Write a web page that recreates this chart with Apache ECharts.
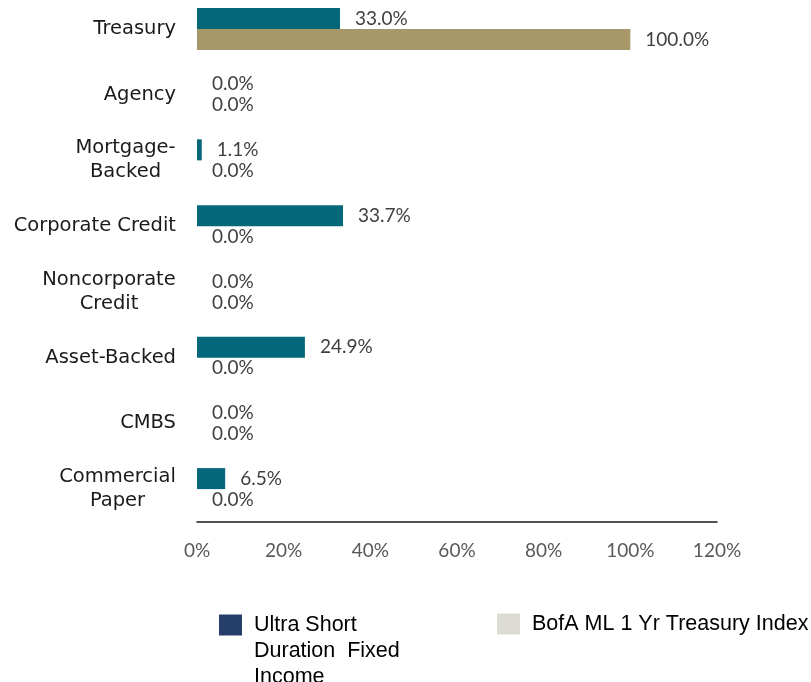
<!DOCTYPE html>
<html>
<head>
<meta charset="utf-8">
<script src="https://cdn.jsdelivr.net/npm/echarts@6/dist/echarts.min.js"></script>
<style>
  html, body { margin: 0; padding: 0; background: #ffffff; }
  #chart { width: 811px; height: 682px; }
</style>
</head>
<body>
<div id="chart"></div>
<script>
// Sector weights (%) for the fund and its benchmark
const categories = [
  'Treasury',
  'Agency',
  'Mortgage-\nBacked',
  'Corporate Credit',
  'Noncorporate\nCredit',
  'Asset-Backed',
  'CMBS',
  'Commercial\nPaper'
];
const fundWeights = [33.0, 0.0, 1.1, 33.7, 0.0, 24.9, 0.0, 6.5];
const indexWeights = [100.0, 0.0, 0.0, 0.0, 0.0, 0.0, 0.0, 0.0];

const fundName = 'Ultra Short Duration Fixed Income';
const fundLegendLines = ['Ultra Short', 'Duration  Fixed', 'Income'];
const indexName = 'BofA ML 1 Yr Treasury Index';

// x axis range and step
const xMin = 0;
const xMax = 120;
const xStep = 20;

const CAT_FONT = '"DejaVu Sans", Verdana, sans-serif';
const CAT_SIZE = 19.5;
const NUM_FONT = 'Lato, "Open Sans", sans-serif';
const LEGEND_FONT = '"Liberation Sans", Arial, sans-serif';

// Multi-line category labels: lines centred within their own block,
// block right-aligned against the axis.
const measureCtx = document.createElement('canvas').getContext('2d');
measureCtx.font = CAT_SIZE + 'px ' + CAT_FONT;
const catRich = {};
const catLabelText = {};
categories.forEach(function (c, i) {
  const lines = c.split('\n');
  if (lines.length > 1) {
    const w = Math.ceil(Math.max.apply(null, lines.map(function (l) { return measureCtx.measureText(l).width; })));
    catRich['c' + i] = {
      width: w, align: 'center',
      fontFamily: CAT_FONT, fontSize: CAT_SIZE, lineHeight: 24, color: '#1a1a1a'
    };
    catLabelText[c] = lines.map(function (l) { return '{c' + i + '|' + l + '}'; }).join('\n');
  } else {
    catLabelText[c] = c;
  }
});

// The wrapped legend entry hangs down from its marker: two blank lines
// above balance the two continuation lines below.
const fundLegendText = ' \n \n' + fundLegendLines.join('\n');

const valueLabel = {
  show: true,
  position: 'right',
  distance: 15,
  fontFamily: NUM_FONT,
  fontSize: 19,
  color: '#404040',
  formatter: function (p) { return Number(p.value).toFixed(1) + '%'; }
};

const legendText = {
  fontFamily: LEGEND_FONT,
  fontSize: 21.5,
  lineHeight: 26,
  color: '#000000',
  padding: [0, 0, 0, 7]
};

const chart = echarts.init(document.getElementById('chart'), null, { renderer: 'canvas' });

chart.setOption({
  animation: false,
  backgroundColor: '#ffffff',
  grid: {
    left: 197, right: 94, top: -4, bottom: 160,
    containLabel: false,
    outerBoundsMode: 'none'
  },
  xAxis: {
    type: 'value',
    min: xMin,
    max: xMax,
    interval: xStep,
    axisLine: { show: true, lineStyle: { color: '#1a1a1a', width: 1.5 } },
    axisTick: { show: false },
    splitLine: { show: false },
    axisLabel: {
      margin: 19,
      fontFamily: NUM_FONT,
      fontSize: 19,
      color: '#595959',
      formatter: '{value}%'
    }
  },
  yAxis: {
    type: 'category',
    inverse: true,
    data: categories,
    axisLine: { show: false },
    axisTick: { show: false },
    splitLine: { show: false },
    axisLabel: {
      interval: 0,
      margin: 21,
      fontFamily: CAT_FONT,
      fontSize: CAT_SIZE,
      lineHeight: 24,
      color: '#1a1a1a',
      formatter: function (v) { return catLabelText[v]; },
      rich: catRich
    }
  },
  legend: [
    {
      data: [{ name: fundName, icon: 'rect', itemStyle: { color: '#263f6a' } }],
      left: 219,
      top: 560,
      padding: 0,
      itemWidth: 23,
      itemHeight: 21,
      selectedMode: false,
      formatter: function () { return fundLegendText; },
      textStyle: legendText
    },
    {
      data: [{ name: indexName, icon: 'rect', itemStyle: { color: '#dcdcd4' } }],
      left: 497,
      top: 611,
      padding: 0,
      itemWidth: 23,
      itemHeight: 21,
      selectedMode: false,
      textStyle: legendText
    }
  ],
  series: [
    {
      name: fundName,
      type: 'bar',
      data: fundWeights,
      barWidth: 21,
      barGap: '0%',
      itemStyle: { color: '#04677a' },
      label: valueLabel
    },
    {
      name: indexName,
      type: 'bar',
      data: indexWeights,
      barWidth: 21,
      barGap: '0%',
      itemStyle: { color: '#a69868' },
      label: valueLabel
    }
  ]
});
</script>
</body>
</html>
